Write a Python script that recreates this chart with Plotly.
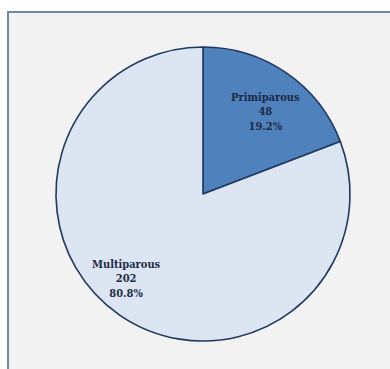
import plotly.graph_objects as go

# Parity of the study participants
categories = ["Primiparous", "Multiparous"]
counts = [48, 202]
percents = [19.2, 80.8]

slice_colors = ["#4f81bd", "#dce6f2"]
outline = "#1f3a5f"
label_color = "#1d2b45"

W, H = 390, 369

# Label anchor points in pixels (x, y from top)
label_pos = [(265, 112), (126, 279)]

fig = go.Figure(
    go.Pie(
        labels=categories,
        values=counts,
        sort=False,
        direction="clockwise",
        rotation=0,
        marker=dict(colors=slice_colors, line=dict(color=outline, width=1.6)),
        textinfo="none",
        hoverinfo="label+value+percent",
        showlegend=False,
        domain=dict(x=[56 / W, 350 / W], y=[(H - 341) / H, (H - 47) / H]),
    )
)

for name, n, pct, (px, py) in zip(categories, counts, percents, label_pos):
    fig.add_annotation(
        x=px / W, y=(H - py) / H, xref="paper", yref="paper",
        xanchor="center", yanchor="middle", showarrow=False,
        text=f"<b>{name}</b><br><b>{n}</b><br><b>{pct:.1f}%</b>",
        align="center",
        font=dict(family="DejaVu Serif Condensed, DejaVu Serif", size=11, color=label_color),
    )

# Chart-area frame that runs off the right and bottom edges
fig.add_shape(
    type="rect", xref="paper", yref="paper",
    x0=8 / W, x1=1.05, y0=-0.05, y1=(H - 12) / H,
    line=dict(color="#6f8aa0", width=2),
    fillcolor="#f2f2f2", layer="below",
)

fig.update_layout(
    width=W, height=H,
    margin=dict(l=0, r=0, t=0, b=0),
    paper_bgcolor="white",
    plot_bgcolor="white",
)

fig.write_html("out.html")
